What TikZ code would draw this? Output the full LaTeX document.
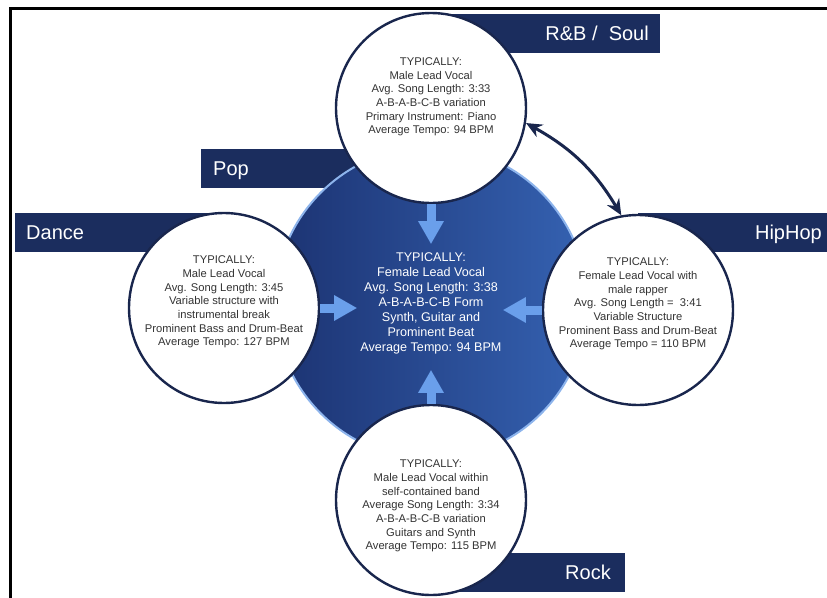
\documentclass[tikz,border=0pt]{standalone}
\usepackage{fontspec}
\setmainfont{Liberation Sans}
\usetikzlibrary{arrows.meta}

\definecolor{navy}{HTML}{1B2D5E}
\definecolor{rim}{HTML}{19264D}
\definecolor{ring}{HTML}{8DB4EC}
\definecolor{hubdark}{HTML}{1C3372}
\definecolor{hublight}{HTML}{3562B2}
\definecolor{flowblue}{HTML}{6A9FEB}
\definecolor{infogray}{HTML}{333333}

\begin{document}
\begin{tikzpicture}
  [x=1pt,y=-1pt,
   genre/.style={circle,draw=rim,line width=2.4pt,fill=white,minimum size=190pt,inner sep=0pt},
   hub/.style={circle,draw=ring,line width=2pt,left color=hubdark,right color=hublight,minimum size=312pt,inner sep=0pt},
   info/.style={align=center,text=infogray,font=\fontsize{11.2}{13.7}\selectfont},
   bartext/.style={text=white,font=\fontsize{20}{24}\selectfont,inner sep=0pt},
   flow/.style={line width=9pt,draw=flowblue,-{Triangle[length=23pt,width=24pt]}},
   link/.style={line width=3pt,draw=rim,{Stealth[length=16pt,width=14pt]}-{Stealth[length=16pt,width=14pt]}}]
  \useasboundingbox (0,0) rectangle (827,597);
  \clip (0,0) rectangle (827,597);
  \draw[line width=3pt] (10,610) |- (840,8);

  % label bars, behind the circles
  \foreach \xa/\ya/\xb in {431/14/660, 201/149/431, 15/213/224, 638/213/840, 431/553/625}
    \fill[navy] (\xa,\ya) rectangle (\xb,\ya+39);

  \node[hub] (pop) at (431,303) {};
  \node[genre] (rnb) at (431,108) {};
  \node[genre] (dance) at (224,308) {};
  \node[genre] (hiphop) at (638,310) {};
  \node[genre] (rock) at (431,500) {};

  \node[bartext,anchor=base east] (rnblabel) at (649,40.5) {R\&B /\ \ Soul};
  \node[bartext,anchor=base west] (poplabel) at (213,175.5) {Pop};
  \node[bartext,anchor=base west] (dancelabel) at (26,239.5) {Dance};
  \node[bartext,anchor=base east] (hiphoplabel) at (822,239.5) {HipHop};
  \node[bartext,anchor=base east] (rocklabel) at (611,579.5) {Rock};

  \draw[link] (rnb.-9) to[bend left=15] (hiphop.100);

  \draw[flow] (rnb.south) -- ++(0,40);
  \draw[flow] (rock.north) -- ++(0,-34);
  \draw[flow] (dance.east) -- ++(37,0);
  \draw[flow] (hiphop.west) -- ++(-39,0);

  \node[info] (rnbtext) at (431,97) {TYPICALLY:\\Male Lead Vocal\\Avg. Song Length: 3:33\\A-B-A-B-C-B variation\\Primary Instrument: Piano\\Average Tempo: 94 BPM};
  \node[info] (dancetext) at (224,302) {TYPICALLY:\\Male Lead Vocal\\Avg. Song Length: 3:45\\Variable structure with\\instrumental break\\Prominent Bass and Drum-Beat\\Average Tempo: 127 BPM};
  \node[info] (hiphoptext) at (638,304) {TYPICALLY:\\Female Lead Vocal with\\male rapper\\Avg. Song Length =\ \ 3:41\\Variable Structure\\Prominent Bass and Drum-Beat\\Average Tempo = 110 BPM};
  \node[info] (rocktext) at (431,506) {TYPICALLY:\\Male Lead Vocal within\\self-contained band\\Average Song Length: 3:34\\A-B-A-B-C-B variation\\Guitars and Synth\\Average Tempo: 115 BPM};
  \node[info,text=white,font=\fontsize{12.6}{15}\selectfont] (poptext) at (431,303) {TYPICALLY:\\Female Lead Vocal\\Avg. Song Length: 3:38\\A-B-A-B-C-B Form\\Synth, Guitar and\\Prominent Beat\\Average Tempo: 94 BPM};
\end{tikzpicture}
\end{document}
